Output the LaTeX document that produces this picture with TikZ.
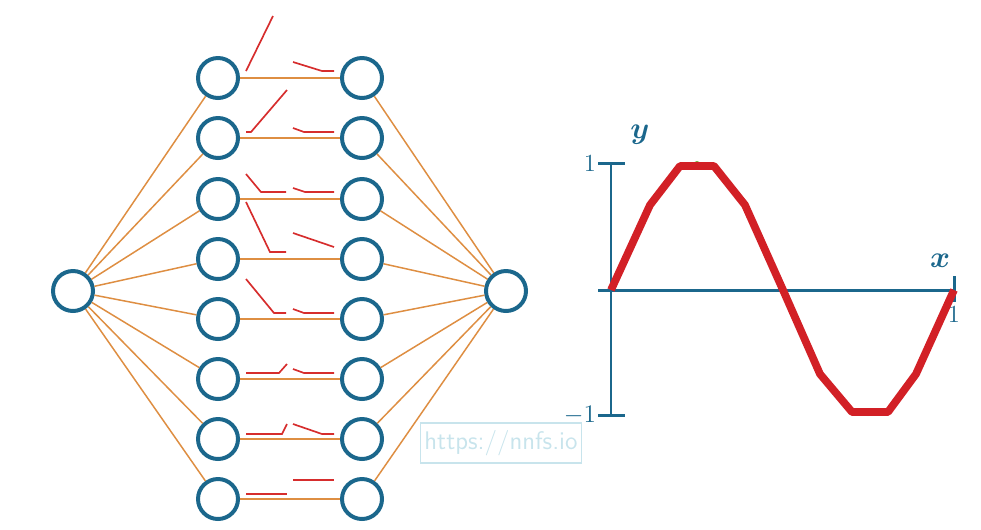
\documentclass[tikz,border=0pt]{standalone}
\usepackage{amsmath}
\usepackage{tikz}
\usetikzlibrary{positioning}
\usepackage{xcolor}
\definecolor{nnblue}{RGB}{27,103,140}
\definecolor{wirec}{RGB}{222,142,66}
\definecolor{reluc}{RGB}{214,45,45}
\definecolor{curvec}{RGB}{210,32,38}
\definecolor{markc}{RGB}{110,180,60}
\definecolor{wmarkc}{RGB}{200,228,236}
\tikzset{
  neuron/.style = {circle, draw=nnblue, line width=2.27pt, minimum size=0.8cm,
                   inner sep=0pt},
  wire/.style   = {wirec, line width=0.85pt},
  relu/.style   = {reluc, line width=0.95pt},
  axis/.style   = {nnblue, line width=1.7pt},
  curve/.style  = {curvec, line width=4.4pt, line join=round},
  ticklab/.style= {text=nnblue, font=\fontsize{14}{14}\selectfont, inner sep=1pt},
  axlab/.style  = {text=nnblue, font=\fontsize{16}{16}\selectfont, inner sep=1pt},
  wmark/.style  = {draw=wmarkc, line width=0.6pt, text=wmarkc, minimum width=3.04cm,
                   minimum height=0.8cm, inner xsep=2pt,
                   font=\sffamily\fontsize{14.5}{14.5}\selectfont},
}

\begin{document}
\begin{tikzpicture}[x=0.02cm, y=-0.02cm]
\useasboundingbox (0,0) rectangle (981,529);

% ---- network ----
\node[neuron] (in) at (73,291) {};
\node[neuron] (a1) at (218,78) {};
\node[neuron] (a2) at (218,138) {};
\node[neuron] (a3) at (218,199) {};
\node[neuron] (a4) at (218,259) {};
\node[neuron] (a5) at (218,319) {};
\node[neuron] (a6) at (218,379) {};
\node[neuron] (a7) at (218,439) {};
\node[neuron] (a8) at (218,499) {};
\node[neuron] (b1) at (362,78) {};
\node[neuron] (b2) at (362,138) {};
\node[neuron] (b3) at (362,199) {};
\node[neuron] (b4) at (362,259) {};
\node[neuron] (b5) at (362,319) {};
\node[neuron] (b6) at (362,379) {};
\node[neuron] (b7) at (362,439) {};
\node[neuron] (b8) at (362,499) {};
\node[neuron] (out) at (506,291) {};

\draw[wire] (in) -- (a1); \draw[wire] (a1) -- (b1); \draw[wire] (b1) -- (out);
\draw[wire] (in) -- (a2); \draw[wire] (a2) -- (b2); \draw[wire] (b2) -- (out);
\draw[wire] (in) -- (a3); \draw[wire] (a3) -- (b3); \draw[wire] (b3) -- (out);
\draw[wire] (in) -- (a4); \draw[wire] (a4) -- (b4); \draw[wire] (b4) -- (out);
\draw[wire] (in) -- (a5); \draw[wire] (a5) -- (b5); \draw[wire] (b5) -- (out);
\draw[wire] (in) -- (a6); \draw[wire] (a6) -- (b6); \draw[wire] (b6) -- (out);
\draw[wire] (in) -- (a7); \draw[wire] (a7) -- (b7); \draw[wire] (b7) -- (out);
\draw[wire] (in) -- (a8); \draw[wire] (a8) -- (b8); \draw[wire] (b8) -- (out);

% ---- relu pieces ----
\draw[relu] (246,71) -- (273,16);
\draw[relu] (293,62) -- (322,71) -- (334,71);
\draw[relu] (246,132) -- (251,132) -- (287,90);
\draw[relu] (293,128) -- (304,132) -- (334,132);
\draw[relu] (246,174) -- (261,192) -- (286,192);
\draw[relu] (293,188) -- (305,192) -- (334,192);
\draw[relu] (246,202) -- (270,252) -- (286,252);
\draw[relu] (293,233) -- (334,247);
\draw[relu] (246,279) -- (274,313) -- (286,313);
\draw[relu] (293,309) -- (304,313) -- (334,313);
\draw[relu] (246,373) -- (279,373) -- (287,364);
\draw[relu] (293,369) -- (304,373) -- (334,373);
\draw[relu] (246,434) -- (282,434) -- (287,424);
\draw[relu] (293,424) -- (322,434) -- (334,434);
\draw[relu] (246,494) -- (287,494);
\draw[relu] (293,480) -- (334,480);

% ---- plot ----
\draw[axis] (611,163) -- (611,415);
\draw[axis] (598,163) -- (625,163);
\draw[axis] (598,415) -- (625,415);
\draw[axis] (598,290) -- (954,290);
\draw[axis] (954,276) -- (954,302);
\node[ticklab, anchor=east] (ytop) at (598,163) {1};
\node[ticklab, anchor=east] (ybot) at (598,415) {$-1$};
\node[ticklab] (xone) at (954,314) {1};
\node[axlab] (xlab) at (940,261) {$\boldsymbol{x}$};
\node[axlab] (ylab) at (640,135) {$\boldsymbol{y}$};
\fill[markc] (697,165) circle (4);
\fill[markc] (868,412) circle (4);
\draw[curve] (611,290) -- (650,205) -- (680,166) -- (714,166) -- (745,205)
      -- (783,290) -- (820,374) -- (852,412) -- (888,412) -- (916,374) -- (954,290);

\node[wmark] (wm) at (501,443) {https://nnfs.io};

\end{tikzpicture}
\end{document}
